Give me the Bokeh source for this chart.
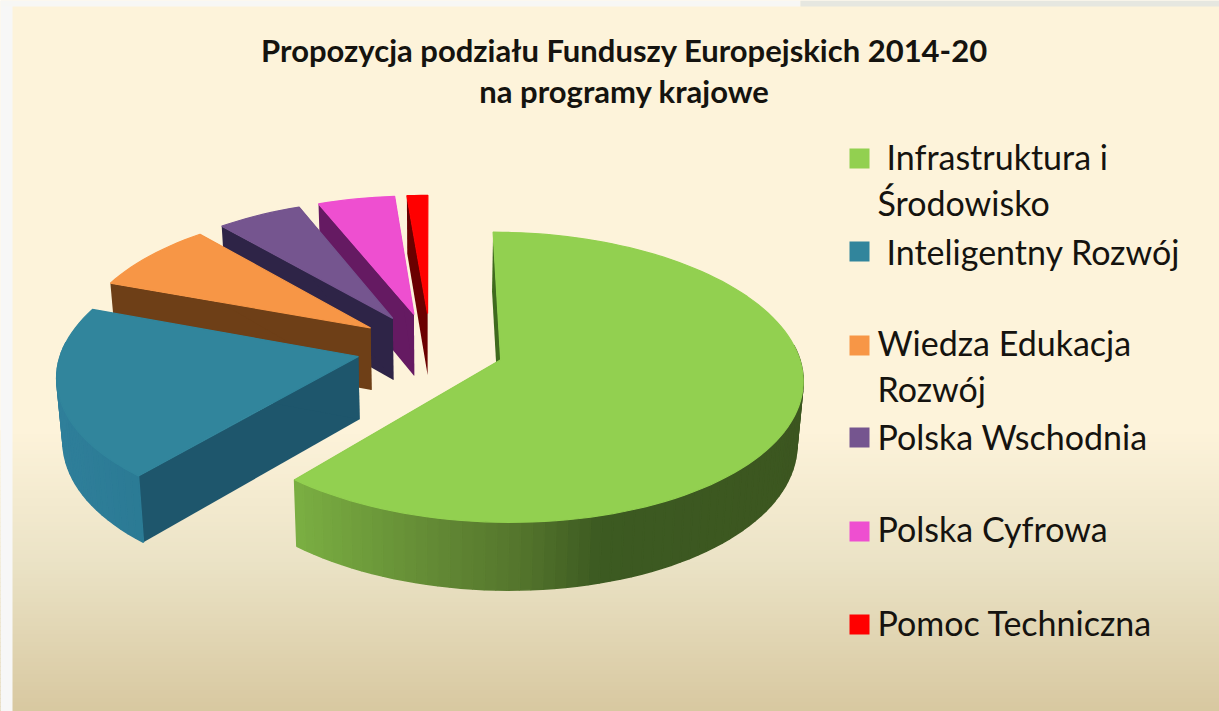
import numpy as np
from bokeh.plotting import figure
from bokeh.embed import file_html
from bokeh.resources import INLINE
from bokeh.models import Range1d
from bokeh.core.properties import value

title_lines = ["Propozycja podziału Funduszy Europejskich 2014-20", "na programy krajowe"]
categories = ["Infrastruktura i Środowisko", "Inteligentny Rozwój", "Wiedza Edukacja Rozwój",
              "Polska Wschodnia", "Polska Cyfrowa", "Pomoc Techniczna"]
shares = [61.2, 19.4, 8.0, 5.3, 4.8, 1.3]
explode = [0.25, 0.25, 0.25, 0.25, 0.25, 0.25]
top_colors = ["#92d050", "#31859c", "#f79646", "#75558f", "#ee4fd0", "#ff0000"]
wall_colors = ["#3f6a1e", "#1e566c", "#6e3f17", "#2e2447", "#651a62", "#6a0000"]
legend_lines = ["Infrastruktura i", "Środowisko", "Inteligentny Rozwój", "Wiedza Edukacja",
                "Rozwój", "Polska Wschodnia", "Polska Cyfrowa", "Pomoc Techniczna"]
legend_line_y = [156, 202, 251, 342, 388, 436, 528, 622]
legend_line_x = [886, 877, 886, 877, 877, 877, 877, 877]
legend_square_y = [158, 251, 345, 437, 531, 624]
rim_stops = {0: ([297, 430, 520, 600, 810], ["#7aae42", "#638a35", "#54752c", "#3c5a21", "#3c5620"]),
             1: ([55, 145], ["#2f7f9a", "#2b7a94"])}
bg_y = [0, 430, 560, 711]
bg_c = ["#fdf3da", "#fdf3da", "#ebe3c6", "#d8c8a0"]

# scene projection (disc coordinates -> picture pixels)
X0, Y0, A, B, K = 430.0, 347.0, 140.0, 296.0, 0.12
SHRINK = 0.017

def proj(u, v):
    w = 1 + K * v
    return X0 + B * u / w, Y0 - A * v / w

def drop(x, y):
    return x - (x - X0) * SHRINK, y + 62 + 0.03 * (y - 330)

def rgb(h):
    return np.array([int(h[i:i + 2], 16) for i in (1, 3, 5)], float)

def ramp(t, xs, cs):
    arr = np.array([rgb(c) for c in cs])
    v = [np.interp(t, xs, arr[:, i]) for i in range(3)]
    return "#%02x%02x%02x" % tuple(int(round(c)) for c in v)

p = figure(width=1219, height=711, x_range=Range1d(0, 1219), y_range=Range1d(711, 0),
           output_backend="svg", toolbar_location=None, min_border=0)
p.axis.visible = False
p.grid.visible = False
p.outline_line_color = None
p.background_fill_color = "#fdf3da"
p.border_fill_color = "#fdf3da"

# background
ys = np.arange(430, 712, 4)
p.quad(left=0, right=1219, top=ys, bottom=ys + 4,
       fill_color=[ramp(y + 2, bg_y, bg_c) for y in ys],
       line_color=[ramp(y + 2, bg_y, bg_c) for y in ys], line_width=1)
p.quad(left=[0, 0, 800], right=[12, 800, 1219], top=[0, 0, 0], bottom=[711, 6, 6],
       fill_color=["#f7f7f7", "#f7f7f5", "#e6e7e0"], line_color=None)

# slices
edges = np.cumsum([0] + shares) / sum(shares) * 2 * np.pi
for i in range(len(shares) - 1, -1, -1):
    a0, a1 = edges[i], edges[i + 1]
    mid = (a0 + a1) / 2
    cu, cv = explode[i] * np.sin(mid), explode[i] * np.cos(mid)
    n = max(3, int(np.degrees(a1 - a0) / 2))
    th = np.linspace(a0, a1, n + 1)
    rx, ry = proj(cu + np.sin(th), cv + np.cos(th))
    ax, ay = proj(cu, cv)
    bx, by = drop(rx, ry)
    abx, aby = drop(ax, ay)

    # flat radial walls
    for k in (0, -1):
        p.patch([ax, rx[k], bx[k], abx], [ay, ry[k], by[k], aby],
                fill_color=wall_colors[i], line_color=None)

    # curved rim: only the part the viewer can see
    qx, qy, qc = [], [], []
    for j in range(n):
        if np.cos((th[j] + th[j + 1]) / 2) > 0.1:
            continue
        qx.append([rx[j], rx[j + 1], bx[j + 1], bx[j]])
        qy.append([ry[j], ry[j + 1], by[j + 1], by[j]])
        t = (rx[j] + rx[j + 1]) / 2
        qc.append(ramp(t, *rim_stops[i]) if i in rim_stops else wall_colors[i])
    if qx:
        p.patches(qx, qy, fill_color=qc, line_color=qc, line_width=1.6)

    # top surface
    p.patch(np.r_[ax, rx], np.r_[ay, ry], fill_color=top_colors[i], line_color=top_colors[i], line_width=1.2)

# title
p.text(x=[624, 624], y=[49, 90], text=title_lines, text_font=value("Lato"), text_font_style="bold",
       text_font_size="31px", text_align="center", text_baseline="middle", text_color="#15130f")

# legend
p.rect(x=[859] * 6, y=legend_square_y, width=20, height=20, fill_color=top_colors, line_color=None)
p.text(x=legend_line_x, y=legend_line_y, text=legend_lines, text_font=value("Lato"),
       text_font_size="34px", text_align="left", text_baseline="middle", text_color="#15130f")

open("out.html", "w").write(file_html(p, INLINE))
